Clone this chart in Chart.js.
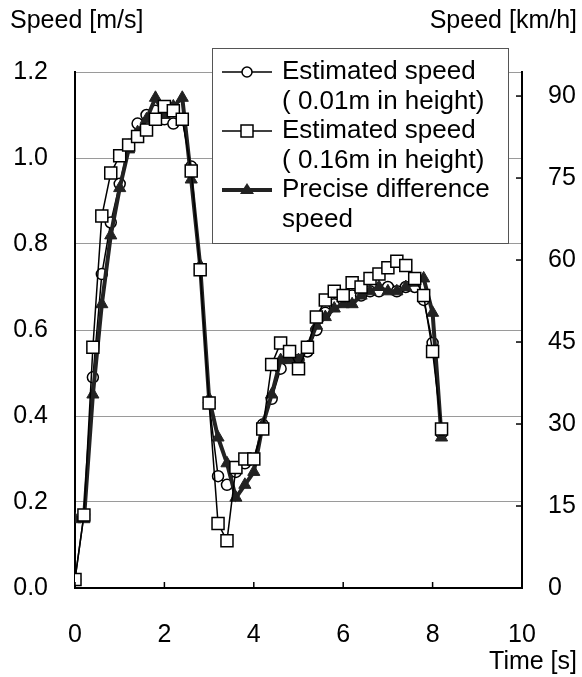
<!DOCTYPE html>
<html><head><meta charset="utf-8">
<script src="https://cdn.jsdelivr.net/npm/chart.js@4/dist/chart.umd.min.js"></script>
<style>html,body{margin:0;padding:0;background:#fff;}</style>
</head><body>
<canvas id="c" width="582" height="677"></canvas>
<script>
// ---- data ----
const times = [0.0,0.2,0.4,0.6,0.8,1.0,1.2,1.4,1.6,1.8,2.0,2.2,2.4,2.6,2.8,3.0,3.2,3.4,3.6,3.8,4.0,4.2,4.4,4.6,4.8,5.0,5.2,5.4,5.6,5.8,6.0,6.2,6.4,6.6,6.8,7.0,7.2,7.4,7.6,7.8,8.0,8.2];
const est001 = [0.02,0.17,0.49,0.73,0.85,0.94,1.03,1.08,1.10,1.11,1.09,1.08,1.09,0.98,0.74,0.43,0.26,0.24,0.27,0.29,0.30,0.38,0.44,0.51,0.55,0.53,0.55,0.60,0.64,0.66,0.67,0.68,0.68,0.69,0.69,0.70,0.69,0.70,0.70,0.67,0.57,0.36];
const est016 = [0.02,0.17,0.56,0.865,0.965,1.005,1.03,1.05,1.065,1.09,1.12,1.11,1.09,0.97,0.74,0.43,0.15,0.11,0.28,0.30,0.30,0.37,0.52,0.57,0.55,0.51,0.56,0.63,0.67,0.69,0.68,0.71,0.70,0.72,0.73,0.745,0.76,0.75,0.72,0.68,0.55,0.37];
const precise = [0.16,0.16,0.45,0.66,0.82,0.93,1.02,1.06,1.09,1.14,1.10,1.12,1.14,0.95,0.75,0.44,0.35,0.29,0.21,0.24,0.27,0.38,0.45,0.53,0.53,0.53,0.56,0.61,0.63,0.65,0.66,0.66,0.68,0.69,0.70,0.69,0.69,0.70,0.71,0.72,0.64,0.35];
const seriesNames = [["Estimated speed","( 0.01m in height)"],["Estimated speed","( 0.16m in height)"],["Precise difference","speed"]];
const xTicks = [0,2,4,6,8,10];
const leftTicks = [0.0,0.2,0.4,0.6,0.8,1.0,1.2];
const rightTicks = [0,15,30,45,60,75,90];
const axisTitles = {left:"Speed [m/s]", right:"Speed [km/h]", bottom:"Time [s]"};

const FONT = '"Liberation Sans", Arial, sans-serif';
const pts = arr => arr.map((v,i)=>({x:times[i], y:v}));

const overlay = {
  id:'overlay',
  afterDraw(chart){
    const ctx = chart.ctx, ca = chart.chartArea;
    const sx = chart.scales.x, sr = chart.scales.y2;
    ctx.save();
    // inward tick marks
    ctx.strokeStyle = '#000'; ctx.lineWidth = 1.5;
    xTicks.forEach(v=>{ const px = sx.getPixelForValue(v); ctx.beginPath(); ctx.moveTo(px, ca.bottom); ctx.lineTo(px, ca.bottom-6); ctx.stroke(); });
    rightTicks.forEach(v=>{ const py = sr.getPixelForValue(v); ctx.beginPath(); ctx.moveTo(ca.right, py); ctx.lineTo(ca.right-6, py); ctx.stroke(); });
    // titles
    ctx.fillStyle = '#000'; ctx.font = '25px ' + FONT; ctx.textBaseline = 'middle';
    ctx.textAlign = 'left'; ctx.fillText(axisTitles.left, 10, 21);
    ctx.textAlign = 'right'; ctx.fillText(axisTitles.right, 577, 21);
    ctx.fillText(axisTitles.bottom, 577, 662);
    // legend
    const bx = 212, by = 48, bw = 296, bh = 195;
    ctx.fillStyle = '#fff'; ctx.fillRect(bx, by, bw, bh);
    ctx.strokeStyle = '#555'; ctx.lineWidth = 1; ctx.strokeRect(bx+0.5, by+0.5, bw, bh);
    const rows = [72, 131, 190];
    const lw = [1.5, 1.5, 4];
    rows.forEach((ry,i)=>{
      ctx.strokeStyle = i===2 ? '#222' : '#000'; ctx.lineWidth = lw[i];
      ctx.beginPath(); ctx.moveTo(222, ry); ctx.lineTo(272, ry); ctx.stroke();
      ctx.lineWidth = 1.5;
      if (i===0){ ctx.fillStyle='#fff'; ctx.beginPath(); ctx.arc(247, ry, 5, 0, Math.PI*2); ctx.fill(); ctx.stroke(); }
      if (i===1){ ctx.fillStyle='#fff'; ctx.fillRect(241, ry-6, 12, 12); ctx.strokeRect(241, ry-6, 12, 12); }
      if (i===2){ ctx.fillStyle='#222'; ctx.beginPath(); ctx.moveTo(247, ry-7); ctx.lineTo(254, ry+4); ctx.lineTo(240, ry+4); ctx.closePath(); ctx.fill(); }
      ctx.fillStyle = '#000'; ctx.font = '26px ' + FONT; ctx.textAlign='left'; ctx.textBaseline='middle';
      ctx.fillText(seriesNames[i][0], 282, ry);
      ctx.fillText(seriesNames[i][1], 282, ry+30);
    });
    ctx.restore();
  }
};

new Chart(document.getElementById('c'), {
  type:'line',
  data:{ datasets:[
    { label:seriesNames[2].join(' '), data:pts(precise), borderColor:'#222', backgroundColor:'#222', borderWidth:4,
      pointStyle:'triangle', pointRadius:7, pointBorderWidth:1, pointBorderColor:'#222', pointBackgroundColor:'#222', order:2 },
    { label:seriesNames[1].join(' '), data:pts(est016), borderColor:'#000', borderWidth:1.5,
      pointStyle:'rect', pointRadius:8.5, pointBorderWidth:1.5, pointBorderColor:'#000', pointBackgroundColor:'#fff', order:1 },
    { label:seriesNames[0].join(' '), data:pts(est001), borderColor:'#000', borderWidth:1.5,
      pointStyle:'circle', pointRadius:5.5, pointBorderWidth:1.5, pointBorderColor:'#000', pointBackgroundColor:'#fff', order:3 }
  ]},
  options:{
    responsive:false, animation:false, devicePixelRatio:1,
    layout:{ padding:{ top:72, left:0, right:0, bottom:0 } },
    plugins:{ legend:{display:false}, tooltip:{enabled:false} },
    elements:{ line:{ tension:0 } },
    scales:{
      x:{ type:'linear', min:0, max:10,
          afterBuildTicks:s=>{ s.ticks = xTicks.map(v=>({value:v})); },
          afterFit:s=>{ s.height = 89; },
          grid:{ display:false, drawTicks:false },
          border:{ display:true, color:'#000', width:2 },
          ticks:{ padding:32, color:'#000', font:{ family:FONT, size:25 }, maxRotation:0, callback:v=>String(v) } },
      y:{ type:'linear', position:'left', min:0, max:1.2,
          afterBuildTicks:s=>{ s.ticks = leftTicks.map(v=>({value:v})); },
          afterFit:s=>{ s.width = 75; },
          grid:{ color:'#9a9a9a', lineWidth:1, drawTicks:false },
          border:{ display:true, color:'#000', width:2 },
          ticks:{ padding:27, color:'#000', font:{ family:FONT, size:25 }, callback:v=>Number(v).toFixed(1) } },
      y2:{ type:'linear', position:'right', min:0, max:94.4,
          afterBuildTicks:s=>{ s.ticks = rightTicks.map(v=>({value:v})); },
          afterFit:s=>{ s.width = 60; },
          grid:{ display:false, drawTicks:false },
          border:{ display:true, color:'#000', width:2 },
          ticks:{ padding:26, color:'#000', font:{ family:FONT, size:25 }, callback:v=>String(v) } }
    }
  },
  plugins:[overlay]
});
</script>
</body></html>
